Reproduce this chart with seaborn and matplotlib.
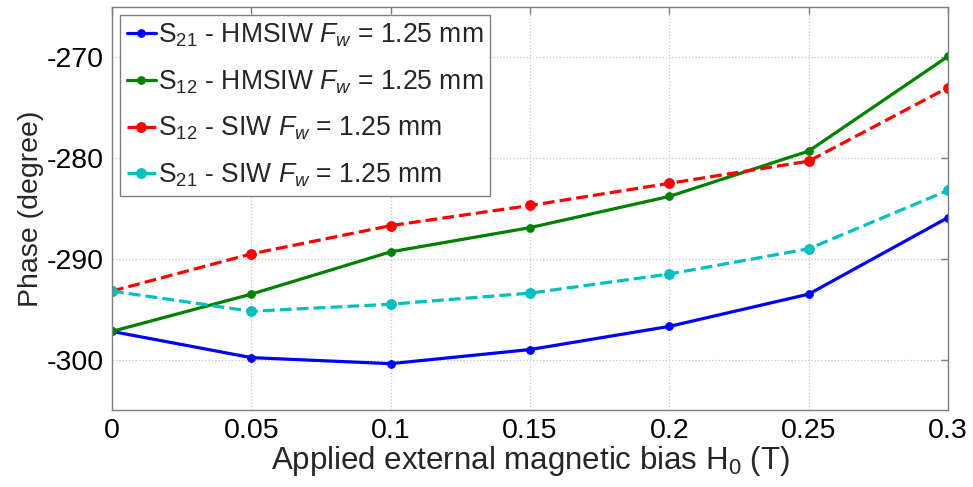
import matplotlib
matplotlib.use("Agg")
import matplotlib.pyplot as plt
import seaborn as sns
import pandas as pd

bias = [0, 0.05, 0.1, 0.15, 0.2, 0.25, 0.3]
s21_hmsiw = [-297.2, -299.8, -300.4, -299.0, -296.7, -293.5, -285.9]
s12_hmsiw = [-297.2, -293.5, -289.3, -286.9, -283.8, -279.3, -269.9]
s12_siw = [-293.2, -289.5, -286.7, -284.7, -282.5, -280.3, -273.0]
s21_siw = [-293.2, -295.2, -294.5, -293.4, -291.5, -289.0, -283.2]

labels = [
    r"S$_{21}$ - HMSIW $F_w$ = 1.25 mm",
    r"S$_{12}$ - HMSIW $F_w$ = 1.25 mm",
    r"S$_{12}$ - SIW $F_w$ = 1.25 mm",
    r"S$_{21}$ - SIW $F_w$ = 1.25 mm",
]
series = [s21_hmsiw, s12_hmsiw, s12_siw, s21_siw]
colors = ["#0000ff", "#008000", "#ff0000", "#00bfbf"]
styles = ["-", "-", "--", "--"]
msizes = [5.5, 5.5, 7, 7]

sns.set_theme(style="white")
plt.rcParams["font.family"] = ["Liberation Sans", "DejaVu Sans"]
plt.rcParams["mathtext.fontset"] = "custom"
plt.rcParams["mathtext.rm"] = "Liberation Sans"
plt.rcParams["mathtext.it"] = "Liberation Sans:italic"
plt.rcParams["axes.unicode_minus"] = False

fig = plt.figure(figsize=(9.73, 4.87), dpi=100)
ax = fig.add_axes([0.1151, 0.1581, 0.8592, 0.8275])

for vals, lab, c, ls, ms in zip(series, labels, colors, styles, msizes):
    df = pd.DataFrame({"H0": bias, "Phase": vals})
    sns.lineplot(data=df, x="H0", y="Phase", ax=ax, color=c, linestyle=ls,
                 linewidth=2.3, marker="o", markersize=ms,
                 markeredgecolor=c, label=lab)

ax.set_xlim(0, 0.3)
ax.set_ylim(-305, -265)
ax.set_xticks(bias)
ax.set_xticklabels(["0", "0.05", "0.1", "0.15", "0.2", "0.25", "0.3"])
ax.set_yticks([-300, -290, -280, -270])
ax.grid(True, linestyle=":", color="#c8c8c8", linewidth=0.9)
ax.tick_params(direction="in", length=5, width=1, color="#7f7f7f",
               labelsize=20.5, top=True, right=True, pad=6, labelcolor="black")
for sp in ax.spines.values():
    sp.set_color("#7f7f7f")
    sp.set_linewidth(1)

ax.set_xlabel(r"Applied external magnetic bias H$_0$ (T)", fontsize=22.5, labelpad=0)
ax.set_ylabel("Phase (degree)", fontsize=20.5, labelpad=2)

leg = ax.legend(loc="upper left", fontsize=19.1, frameon=True, fancybox=False,
                edgecolor="#7f7f7f", handlelength=1.1, handletextpad=0.1,
                borderpad=0.25, labelspacing=0.72, borderaxespad=0.3,
                framealpha=1)
leg.get_frame().set_linewidth(1)

fig.savefig("out.png", dpi=100)
plt.close(fig)
